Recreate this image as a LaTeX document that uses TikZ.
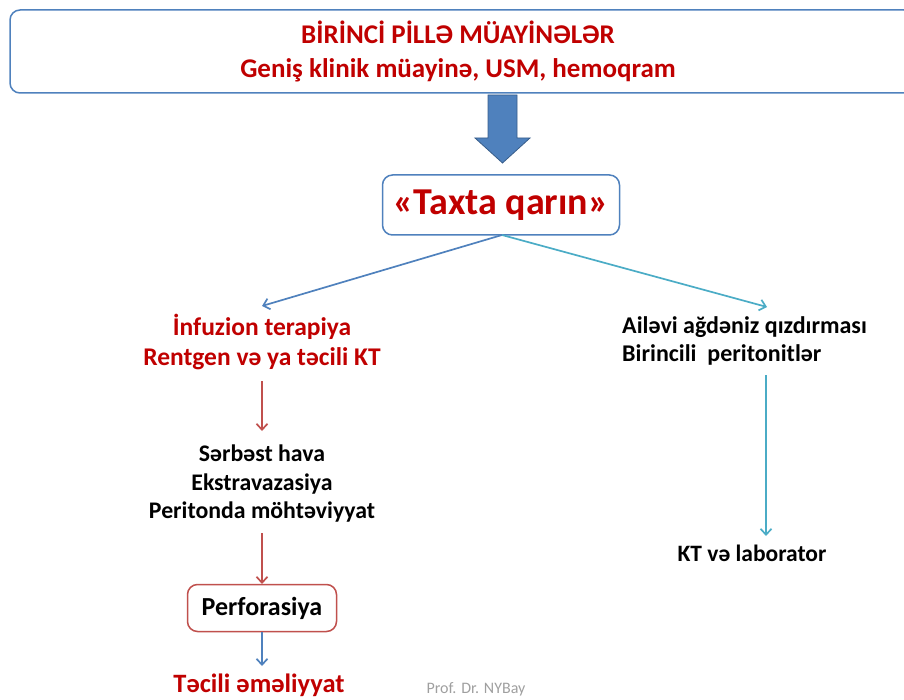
\documentclass[tikz,border=0pt]{standalone}
\usepackage{fontspec}
\setmainfont{Carlito}
\usetikzlibrary{arrows.meta}
\definecolor{txtred}{HTML}{C00000}
\definecolor{ablue}{HTML}{4F81BD}
\definecolor{ablueD}{HTML}{385D8A}
\definecolor{ateal}{HTML}{4BACC6}
\definecolor{ared}{HTML}{C0504D}
\tikzset{
  box/.style={draw=#1, line width=1.5pt, rounded corners=10pt, fill=white},
  conn/.style={draw=#1, line width=1.7pt, -{Straight Barb[length=6pt,width=11pt]}},
  lbl/.style={font=\bfseries\fontsize{23.8}{28.5}\selectfont, align=center, inner sep=0pt},
}
\begin{document}
\begin{tikzpicture}[x=1pt,y=-1pt]
\useasboundingbox (0,0) rectangle (904,700);
% top box
\draw[box=ablue] (10,10) rectangle (914,93);
\node[font=\bfseries\fontsize{27}{34}\selectfont, text=txtred, align=center, inner sep=0pt] (top) at (458,51)
  {BİRİNCİ PİLLƏ MÜAYİNƏLƏR\\Geniş klinik müayinə, USM, hemoqram};
% block arrow
\filldraw[fill=ablue, draw=ablueD, line width=0.8pt]
  (488,95) -- (517,95) -- (517,138) -- (530,138) -- (502.5,163) -- (475,138) -- (488,138) -- cycle;
% Taxta qarin
\node[box=ablue, minimum width=237pt, minimum height=60pt, text=txtred,
      font=\bfseries\fontsize{38}{42}\selectfont, inner sep=0pt] (tq) at (501,205) {«Taxta qarın»};
% left branch
\node[lbl, text=txtred, font=\bfseries\fontsize{25.5}{30}\selectfont] (inf) at (262,342)
  {İnfuzion terapiya\\Rentgen və ya təcili KT};
\node[lbl] (ser) at (262,484) {Sərbəst hava\\Ekstravazasiya\\Peritonda möhtəviyyat};
\node[box=ared, minimum width=149pt, minimum height=47pt, font=\bfseries\fontsize{26}{30}\selectfont, inner sep=0pt] (perf) at (262,608) {Perforasiya};
\node[lbl, text=txtred, font=\bfseries\fontsize{26.5}{30}\selectfont, anchor=base] (tec) at (259,692) {Təcili əməliyyat};
% right branch
\node[lbl, align=left, anchor=west, font=\bfseries\fontsize{24}{28}\selectfont] (ail) at (622,341) {Ailəvi ağdəniz qızdırması\\Birincili\ \ peritonitlər};
\node[lbl, font=\bfseries\fontsize{23.5}{28}\selectfont] (kt) at (752,553) {KT və laborator};
% footer
\node[font=\fontsize{16}{18}\selectfont, text=gray!75, inner sep=0pt] (prof) at (476,689) {Prof. Dr. NYBay};
% connectors
\coordinate (tqb) at (502,235);
\coordinate (l1) at (262,306);
\coordinate (r1) at (767,307);
\draw[conn=ablue] (tqb) -- (l1);
\draw[conn=ateal] (tqb) -- (r1);
\coordinate (a1s) at (262,381); \coordinate (a1e) at (262,431);
\draw[conn=ared] (a1s) -- (a1e);
\coordinate (a2s) at (262,533); \coordinate (a2e) at (262,584);
\draw[conn=ared] (a2s) -- (a2e);
\coordinate (a3e) at (262,666);
\draw[conn=ablue] (perf.south) -- (a3e);
\coordinate (a4s) at (766,375); \coordinate (a4e) at (766,536);
\draw[conn=ateal] (a4s) -- (a4e);
\end{tikzpicture}
\end{document}
